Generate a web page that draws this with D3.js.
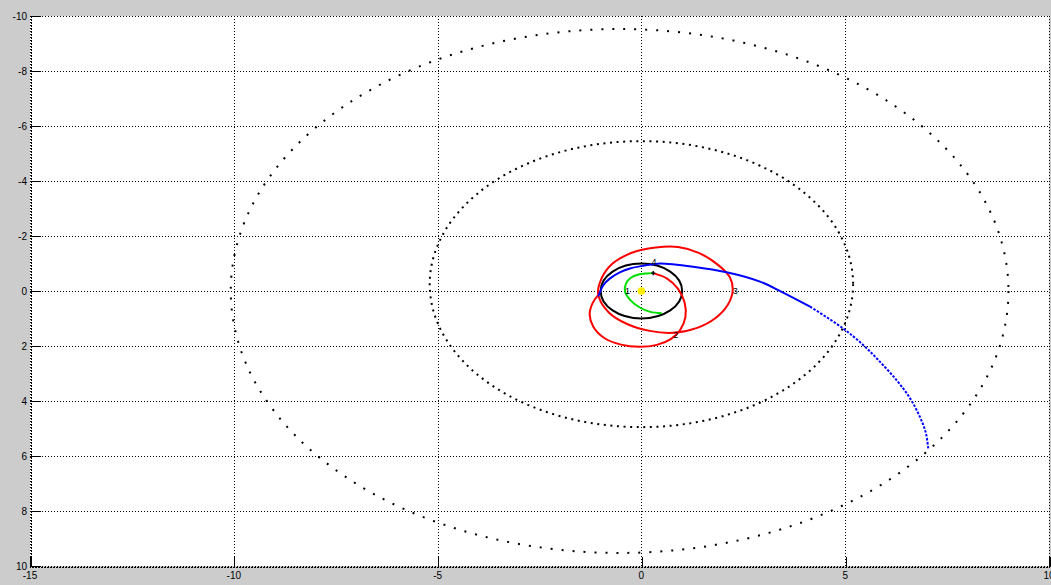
<!DOCTYPE html>
<html>
<head>
<meta charset="utf-8">
<script src="https://cdn.jsdelivr.net/npm/d3@7"></script>
<style>
  html, body { margin: 0; padding: 0; background: #cccccc; overflow: hidden; }
  text { font-family: "Liberation Sans", Arial, sans-serif; }
</style>
</head>
<body>
<svg id="chart" width="1051" height="585"></svg>
<script>
// Axis ticks
const xTicks = [-15, -10, -5, 0, 5, 10];
const yTicks = [-10, -8, -6, -4, -2, 0, 2, 4, 6, 8, 10];

// Planet orbits around the Sun (AU): semi-major axis, eccentricity, perihelion direction
const orbitNames = ["Earth", "Jupiter", "Saturn"];
const orbitA = [1.0, 5.2, 9.54];
const orbitE = [0.0, 0.048, 0.056];
const orbitPeri = [[1, 0], [0, 1], [1, 0]];

// Trajectory legs (AU)
const leg1 = [[0.50, 0.81], [0.22, 0.76], [-0.04, 0.60], [-0.26, 0.35], [-0.40, 0.03],
              [-0.38, -0.27], [-0.26, -0.48], [-0.07, -0.60], [0.12, -0.64], [0.29, -0.65]];
const leg2 = [[0.29, -0.65], [0.63, -0.45], [0.90, -0.08], [1.06, 0.42], [1.08, 0.95],
              [0.95, 1.42], [0.72, 1.75], [0.38, 1.96], [-0.05, 2.03], [-0.50, 1.95],
              [-0.92, 1.70], [-1.18, 1.30], [-1.27, 0.85], [-1.20, 0.45], [-1.06, 0.15]];
const leg3 = [[-1.06, 0.12], [-0.98, -0.45], [-0.72, -0.98], [-0.25, -1.38], [0.35, -1.58],
              [0.90, -1.60], [1.42, -1.38], [1.88, -0.95], [2.17, -0.50], [2.24, -0.02],
              [2.12, 0.50], [1.82, 0.98], [1.35, 1.35], [0.78, 1.52], [0.20, 1.45],
              [-0.35, 1.20], [-0.80, 0.78]];
const leg4 = [[-1.06, 0.20], [-0.93, -0.22], [-0.77, -0.46], [-0.53, -0.68], [-0.28, -0.82],
              [0.05, -0.92], [0.29, -0.97], [0.46, -1.00], [1.27, -0.88], [2.09, -0.68],
              [2.91, -0.34], [3.44, 0.03], [4.14, 0.57], [4.91, 1.32], [5.44, 1.96],
              [5.85, 2.57], [6.26, 3.24], [6.59, 3.90], [6.83, 4.57], [6.98, 5.17], [7.04, 5.78]];
const leg4CoastFrom = 12; // index where the outer coast (sampled points) begins

// Event labels
const eventLabels = ["1", "2", "3", "4"];
const eventPoints = [[-0.40, 0.0], [0.78, 1.60], [2.24, 0.0], [0.25, -1.06]];
const flybyPoint = [0.29, -0.65];

const W = 1051, H = 585;
const margin = { left: 30, right: 2, top: 16, bottom: 19 };

const x = d3.scaleLinear().domain([-15, 10]).range([margin.left, W - margin.right]);
const y = d3.scaleLinear().domain([-10, 10]).range([margin.top, H - margin.bottom]);

const svg = d3.select("#chart");

svg.append("rect").attr("width", W).attr("height", H).attr("fill", "#cccccc");
svg.append("rect")
  .attr("x", x(-15)).attr("y", y(-10))
  .attr("width", x(10) - x(-15)).attr("height", y(10) - y(-10))
  .attr("fill", "#ffffff");

// Grid
const grid = svg.append("g").attr("shape-rendering", "crispEdges")
  .attr("stroke", "#000").attr("stroke-width", 1).attr("stroke-dasharray", "1,2");
grid.selectAll("line.v").data(xTicks).join("line").attr("class", "v")
  .attr("x1", d => Math.round(x(d)) + 0.5).attr("x2", d => Math.round(x(d)) + 0.5)
  .attr("y1", y(-10)).attr("y2", y(10));
grid.selectAll("line.h").data(yTicks).join("line").attr("class", "h")
  .attr("y1", d => Math.round(y(d)) + 0.5).attr("y2", d => Math.round(y(d)) + 0.5)
  .attr("x1", x(-15)).attr("x2", x(10));

// Axes (ticks pointing inward)
const xAxis = d3.axisTop(x).tickValues(xTicks).tickSize(10).tickFormat("");
const yAxis = d3.axisRight(y).tickValues(yTicks).tickSize(10).tickFormat("");
const gx = svg.append("g").attr("transform", `translate(0,${Math.round(y(10)) + 0.5})`).call(xAxis);
const gy = svg.append("g").attr("transform", `translate(${Math.round(x(-15)) + 0.5},0)`).call(yAxis);
[gx, gy].forEach(g => {
  g.select(".domain").attr("stroke", "#000").attr("stroke-dasharray", "2,1");
  g.selectAll(".tick line").attr("stroke", "#000");
  g.attr("shape-rendering", "crispEdges");
});
gx.selectAll(".tick line").attr("transform", "translate(0.5,0)");

// Tick labels
svg.append("g").selectAll("text").data(xTicks).join("text")
  .attr("x", d => x(d)).attr("y", y(10) + 13)
  .attr("text-anchor", "middle").attr("font-size", 10).attr("fill", "#000")
  .text(d => d);
svg.append("g").selectAll("text").data(yTicks).join("text")
  .attr("x", x(-15) - 3).attr("y", d => y(d)).attr("dy", "0.35em")
  .attr("text-anchor", "end").attr("font-size", 10).attr("fill", "#000")
  .text(d => d);

// Planet orbits
const orbits = orbitNames.map((name, i) => {
  const a = orbitA[i], e = orbitE[i], dir = orbitPeri[i];
  const c = a * e, b = a * Math.sqrt(1 - e * e);
  const cx = -c * dir[0], cy = -c * dir[1];
  const alongX = Math.abs(dir[0]) > 0.5;
  return { name, cx, cy, rx: alongX ? a : b, ry: alongX ? b : a };
});
const orbitStyle = {
  Earth:   { width: 2, dash: null },
  Jupiter: { width: 2, dash: "2,4.6" },
  Saturn:  { width: 2, dash: "2,9" }
};
svg.append("g").selectAll("ellipse").data(orbits).join("ellipse")
  .attr("cx", d => x(d.cx)).attr("cy", d => y(d.cy))
  .attr("rx", d => x(d.cx + d.rx) - x(d.cx))
  .attr("ry", d => y(d.cy + d.ry) - y(d.cy))
  .attr("fill", "none").attr("stroke", "#000")
  .attr("stroke-width", d => orbitStyle[d.name].width)
  .attr("stroke-dasharray", d => orbitStyle[d.name].dash);

// Trajectory legs
const line = d3.line().x(d => x(d[0])).y(d => y(d[1])).curve(d3.curveCatmullRom.alpha(0.5));
const closed = d3.line().x(d => x(d[0])).y(d => y(d[1])).curve(d3.curveCatmullRomClosed.alpha(0.5));

const legs = svg.append("g").attr("fill", "none").attr("stroke-linejoin", "round");
legs.append("path").attr("d", line(leg1)).attr("stroke", "#00e000").attr("stroke-width", 2);
legs.append("path").attr("d", line(leg2)).attr("stroke", "#ff0000").attr("stroke-width", 2);
legs.append("path").attr("d", closed(leg3)).attr("stroke", "#ff0000").attr("stroke-width", 2);
legs.append("path").attr("d", line(leg4.slice(0, leg4CoastFrom + 1)))
  .attr("stroke", "#0000ff").attr("stroke-width", 2);
legs.append("path").attr("d", line(leg4.slice(leg4CoastFrom)))
  .attr("stroke", "#0000ff").attr("stroke-width", 2).attr("stroke-dasharray", "2.5,1.5");

// Flyby marker
svg.append("path")
  .attr("d", d3.symbol(d3.symbolCross, 10)())
  .attr("transform", `translate(${x(flybyPoint[0])},${y(flybyPoint[1])})`)
  .attr("fill", "#000");

// Sun
svg.append("circle").attr("cx", x(0)).attr("cy", y(0)).attr("r", 3.8).attr("fill", "#ffee00");

// Event labels
svg.append("g").selectAll("text").data(eventLabels).join("text")
  .attr("x", (d, i) => x(eventPoints[i][0])).attr("y", (d, i) => y(eventPoints[i][1]))
  .attr("dy", "0.35em").attr("font-size", 9).attr("fill", "#000")
  .text(d => d);
</script>
</body>
</html>
